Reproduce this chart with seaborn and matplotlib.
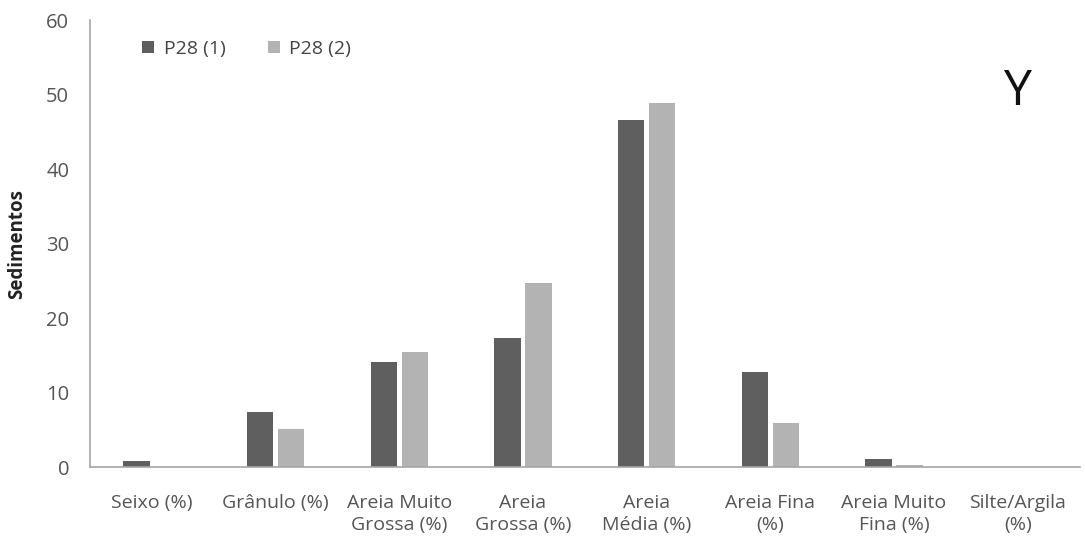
import pandas as pd
import matplotlib
matplotlib.use("Agg")
import matplotlib.pyplot as plt
import seaborn as sns

categories = ["Seixo (%)", "Grânulo (%)", "Areia Muito\nGrossa (%)", "Areia\nGrossa (%)",
              "Areia\nMédia (%)", "Areia Fina\n(%)", "Areia Muito\nFina (%)", "Silte/Argila\n(%)"]
p28_1 = [0.8, 7.4, 14.1, 17.4, 46.6, 12.8, 1.1, 0.0]
p28_2 = [0.0, 5.1, 15.4, 24.7, 48.9, 5.9, 0.3, 0.0]
series = ["P28 (1)", "P28 (2)"]

df = pd.DataFrame({
    "categoria": categories * 2,
    "valor": p28_1 + p28_2,
    "serie": [series[0]] * len(categories) + [series[1]] * len(categories),
})

sns.set_style("white")
plt.rcParams["font.family"] = ["Open Sans", "DejaVu Sans"]

fig = plt.figure(figsize=(10.85, 5.47), dpi=100)
ax = fig.add_axes([0.083, 0.146, 0.912, 0.817])

sns.barplot(data=df, x="categoria", y="valor", hue="serie", ax=ax,
            palette=["#5f5f5f", "#b3b3b3"], width=0.5, gap=0.15,
            saturation=1, edgecolor="none")

ax.set_ylim(0, 60)
ax.set_xlim(-0.5, len(categories) - 0.5)
ax.set_yticks(range(0, 61, 10))
ax.set_xlabel("")
ax.set_ylabel("Sedimentos", fontsize=13.5, fontweight="bold", color="#222222", labelpad=14)
ax.tick_params(axis="y", length=0, labelsize=14.5, labelcolor="#555555", pad=15)
ax.tick_params(axis="x", length=0, labelsize=14, labelcolor="#555555", pad=19)
for lbl in ax.get_xticklabels():
    lbl.set_linespacing(1.35)

sns.despine(ax=ax)
for s in ["left", "bottom"]:
    ax.spines[s].set_color("#a6a6a6")
    ax.spines[s].set_linewidth(1.2)

ax.legend(loc="upper left", bbox_to_anchor=(0.035, 0.995), ncol=2, frameon=False,
          fontsize=14, labelcolor="#444444", handlelength=0.6, handleheight=0.6,
          handletextpad=0.5, columnspacing=2.2)

ax.text(0.937, 0.839, "Y", transform=ax.transAxes, fontsize=36, ha="center",
        va="center", color="#111111")

fig.savefig("out.png", dpi=100)
